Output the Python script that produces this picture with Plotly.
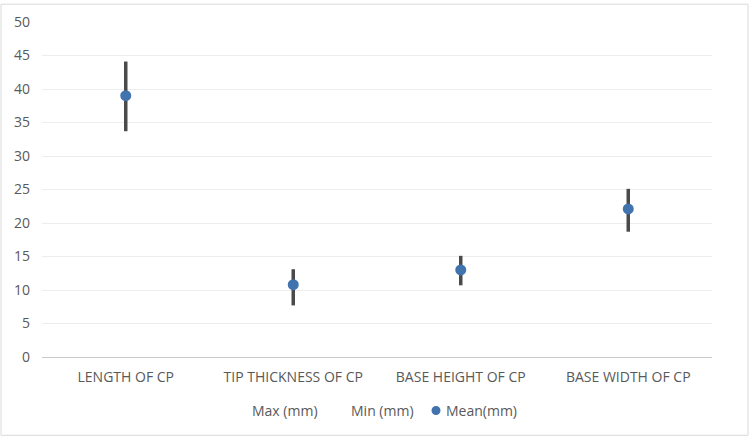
import plotly.graph_objects as go

categories = ["LENGTH OF CP", "TIP THICKNESS OF CP", "BASE HEIGHT OF CP", "BASE WIDTH OF CP"]
max_mm = [44.1, 13.1, 15.1, 25.1]
min_mm = [33.7, 7.7, 10.7, 18.7]
mean_mm = [39.0, 10.8, 13.0, 22.1]
series_names = ["Max (mm)", "Min (mm)", "Mean(mm)"]

err_plus = [a - m for a, m in zip(max_mm, mean_mm)]
err_minus = [m - b for m, b in zip(mean_mm, min_mm)]

font_fam = "Open Sans, Liberation Sans, sans-serif"
txt = "#595959"
mean_color = "#4174AE"

fig = go.Figure()
fig.add_trace(go.Scatter(x=categories, y=max_mm, name=series_names[0], mode="lines",
                         line=dict(color="rgba(0,0,0,0)", width=0), hoverinfo="skip"))
fig.add_trace(go.Scatter(x=categories, y=min_mm, name=series_names[1], mode="lines",
                         line=dict(color="rgba(0,0,0,0)", width=0), hoverinfo="skip"))
fig.add_trace(go.Scatter(x=categories, y=mean_mm, name=series_names[2], mode="markers",
                         marker=dict(color=mean_color, size=11),
                         error_y=dict(type="data", symmetric=False, array=err_plus,
                                      arrayminus=err_minus, color="#4A4A4A",
                                      thickness=3.5, width=0)))

# plot area geometry (px) for the hand-built legend
L, R, T, B, W, H = 42, 38, 19, 81, 750, 438
pw, ph = W - L - R, H - T - B
def px(x):
    return (x - L) / pw
def py(y):
    return (H - B - y) / ph

leg_y = 411
annotations = [
    dict(text=series_names[0], x=px(250), y=py(leg_y), xref="paper", yref="paper",
         xanchor="left", yanchor="middle", showarrow=False, font=dict(size=14, color=txt)),
    dict(text=series_names[1], x=px(349), y=py(leg_y), xref="paper", yref="paper",
         xanchor="left", yanchor="middle", showarrow=False, font=dict(size=14, color=txt)),
    dict(text=series_names[2], x=px(444), y=py(leg_y), xref="paper", yref="paper",
         xanchor="left", yanchor="middle", showarrow=False, font=dict(size=14, color=txt)),
]

fig.update_layout(
    width=W, height=H,
    margin=dict(l=L, r=R, t=T, b=B),
    paper_bgcolor="white", plot_bgcolor="white",
    font=dict(family=font_fam, size=12, color=txt),
    showlegend=False,
    xaxis=dict(showgrid=False, showline=True, linecolor="#C8C8C8", linewidth=1,
               range=[-0.5, 3.5], ticks="", tickfont=dict(size=14, color=txt),
               ticklabelstandoff=7),
    yaxis=dict(range=[0, 50], dtick=5, showgrid=True, gridcolor="#EDEDED",
               zeroline=False, showline=False, ticks="",
               tickfont=dict(size=14, color=txt), ticklabelstandoff=11),
    annotations=annotations,
    shapes=[
        dict(type="rect", xref="paper", yref="paper",
             x0=px(1), x1=px(748), y0=py(436), y1=py(1),
             line=dict(color="#D9D9D9", width=1), fillcolor="rgba(0,0,0,0)",
             layer="below"),
        dict(type="circle", xref="paper", yref="paper",
             x0=px(431.5), x1=px(440.5), y0=py(leg_y + 4.5), y1=py(leg_y - 4.5),
             line=dict(width=0), fillcolor=mean_color),
    ],
)

fig.write_html("out.html", config={"displayModeBar": False},
               post_script="document.body.style.margin='0';")
